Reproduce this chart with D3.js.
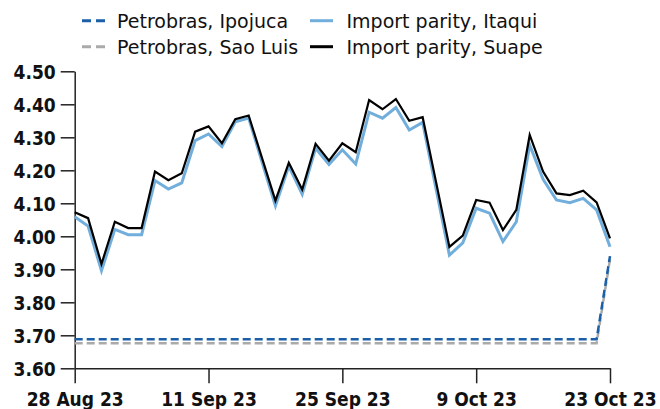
<!DOCTYPE html>
<html>
<head>
<meta charset="utf-8">
<script src="https://cdn.jsdelivr.net/npm/d3@7"></script>
<style>
  body { margin: 0; background: #fff; }
  svg { display: block; font-family: "DejaVu Sans", sans-serif; }
</style>
</head>
<body>
<script>
// business days, 28 Aug 23 .. 23 Oct 23
var dates = ["2023-08-28","2023-08-29","2023-08-30","2023-08-31","2023-09-01",
  "2023-09-04","2023-09-05","2023-09-06","2023-09-07","2023-09-08",
  "2023-09-11","2023-09-12","2023-09-13","2023-09-14","2023-09-15",
  "2023-09-18","2023-09-19","2023-09-20","2023-09-21","2023-09-22",
  "2023-09-25","2023-09-26","2023-09-27","2023-09-28","2023-09-29",
  "2023-10-02","2023-10-03","2023-10-04","2023-10-05","2023-10-06",
  "2023-10-09","2023-10-10","2023-10-11","2023-10-12","2023-10-13",
  "2023-10-16","2023-10-17","2023-10-18","2023-10-19","2023-10-20",
  "2023-10-23"];

var tickDates = ["2023-08-28","2023-09-11","2023-09-25","2023-10-09","2023-10-23"];
var tickLabels = ["28 Aug 23","11 Sep 23","25 Sep 23","9 Oct 23","23 Oct 23"];
var yTicks = [3.6, 3.7, 3.8, 3.9, 4.0, 4.1, 4.2, 4.3, 4.4, 4.5];

var suape = [4.073,4.055,3.916,4.044,4.025,4.025,4.196,4.170,4.191,4.317,
  4.333,4.282,4.355,4.366,4.237,4.108,4.223,4.142,4.280,4.229,
  4.282,4.255,4.413,4.385,4.416,4.350,4.361,4.165,3.968,4.002,
  4.110,4.102,4.019,4.080,4.307,4.196,4.130,4.125,4.138,4.103,
  3.994];

var itaqui = [4.059,4.031,3.896,4.021,4.005,4.005,4.169,4.143,4.162,4.290,
  4.310,4.272,4.347,4.358,4.225,4.092,4.213,4.127,4.267,4.218,
  4.262,4.219,4.376,4.358,4.390,4.322,4.345,4.144,3.943,3.980,
  4.085,4.070,3.984,4.044,4.277,4.173,4.110,4.102,4.115,4.080,
  3.968];

var ipojuca = [3.688,3.688,3.688,3.688,3.688,3.688,3.688,3.688,3.688,3.688,
  3.688,3.688,3.688,3.688,3.688,3.688,3.688,3.688,3.688,3.688,
  3.688,3.688,3.688,3.688,3.688,3.688,3.688,3.688,3.688,3.688,
  3.688,3.688,3.688,3.688,3.688,3.688,3.688,3.688,3.688,3.688,
  3.940];

var saoLuis = [3.676,3.676,3.676,3.676,3.676,3.676,3.676,3.676,3.676,3.676,
  3.676,3.676,3.676,3.676,3.676,3.676,3.676,3.676,3.676,3.676,
  3.676,3.676,3.676,3.676,3.676,3.676,3.676,3.676,3.676,3.676,
  3.676,3.676,3.676,3.676,3.676,3.676,3.676,3.676,3.676,3.676,
  3.930];

var w = 660, h = 409;

var svg = d3.select("body").append("svg")
    .attr("width", w)
    .attr("height", h);

var x = d3.scalePoint()
    .domain(dates)
    .range([74.7, 610]);

var y = d3.scaleLinear()
    .domain([3.6, 4.5])
    .range([368.3, 71.3]);

// axes
var xAxis = d3.axisBottom(x)
    .tickValues(tickDates)
    .tickFormat(function(d) { return tickLabels[tickDates.indexOf(d)]; })
    .tickSize(15)
    .tickSizeOuter(0);

var yAxis = d3.axisLeft(y)
    .tickValues(yTicks)
    .tickFormat(d3.format(".2f"))
    .tickSize(14)
    .tickSizeOuter(0);

var gx = svg.append("g")
    .attr("transform", "translate(0," + y(3.6) + ")")
    .call(xAxis);

var gy = svg.append("g")
    .attr("transform", "translate(" + x(dates[0]) + ",0)")
    .call(yAxis);

[gx, gy].forEach(function(g) {
    g.select(".domain").attr("stroke", "#222").attr("stroke-width", 1.5);
    g.selectAll(".tick line").attr("stroke", "#222").attr("stroke-width", 1.5);
    g.selectAll(".tick text")
        .attr("fill", "#111")
        .attr("font-family", "'DejaVu Sans Condensed', 'DejaVu Sans', sans-serif")
        .attr("font-weight", "bold")
        .attr("font-size", 19);
});
gx.selectAll(".tick text").attr("y", 24).attr("dy", "0.71em");
gy.selectAll(".tick text").attr("x", -19).attr("dy", "0.36em");

// lines
var line = d3.line()
    .x(function(d, i) { return x(dates[i]); })
    .y(function(d) { return y(d); });

var series = [
    { name: "Petrobras, Sao Luis", values: saoLuis, color: "#aaaaaa", width: 2.5, dash: "8,4" },
    { name: "Petrobras, Ipojuca", values: ipojuca, color: "#1a5fa8", width: 2.5, dash: "8,4" },
    { name: "Import parity, Itaqui", values: itaqui, color: "#72aedc", width: 3, dash: null },
    { name: "Import parity, Suape", values: suape, color: "#000000", width: 2.2, dash: null }
];

svg.selectAll(".series")
    .data(series)
    .enter()
    .append("path")
    .attr("class", "series")
    .attr("fill", "none")
    .attr("stroke", function(d) { return d.color; })
    .attr("stroke-width", function(d) { return d.width; })
    .attr("stroke-dasharray", function(d) { return d.dash; })
    .attr("d", function(d) { return line(d.values); });

// legend
var legendItems = [
    { name: "Petrobras, Ipojuca", color: "#1a5fa8", dash: "9,5", col: 0, row: 0 },
    { name: "Import parity, Itaqui", color: "#72aedc", dash: null, col: 1, row: 0 },
    { name: "Petrobras, Sao Luis", color: "#aaaaaa", dash: "9,5", col: 0, row: 1 },
    { name: "Import parity, Suape", color: "#000000", dash: null, col: 1, row: 1 }
];
var colX = [82, 310];
var rowY = [20.7, 46.7];

var legend = svg.append("g").attr("class", "legend");
var li = legend.selectAll("g")
    .data(legendItems)
    .enter()
    .append("g")
    .attr("transform", function(d) { return "translate(" + colX[d.col] + "," + rowY[d.row] + ")"; });

li.append("line")
    .attr("x1", 0).attr("x2", 23)
    .attr("y1", 0).attr("y2", 0)
    .attr("stroke", function(d) { return d.color; })
    .attr("stroke-width", 3)
    .attr("stroke-dasharray", function(d) { return d.dash; });

li.append("text")
    .attr("x", function(d) { return d.col === 0 ? 35 : 36.5; })
    .attr("y", 7.5)
    .attr("font-size", 19)
    .attr("fill", "#111")
    .text(function(d) { return d.name; });
</script>
</body>
</html>
